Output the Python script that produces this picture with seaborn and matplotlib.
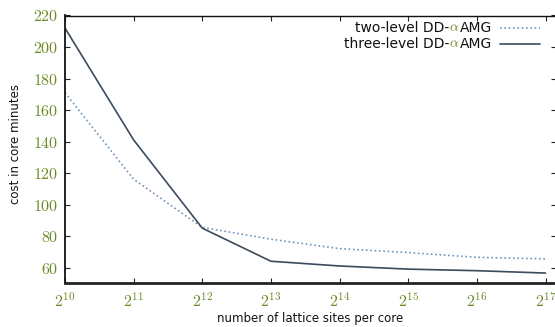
import numpy as np
import pandas as pd
import matplotlib
matplotlib.use("Agg")
import matplotlib.pyplot as plt
import seaborn as sns
from matplotlib.offsetbox import TextArea, HPacker, VPacker, DrawingArea, AnchoredOffsetbox
from matplotlib.lines import Line2D

exponents = [10, 11, 12, 13, 14, 15, 16, 17]
two_level = [171, 116, 85.5, 78, 72, 69.5, 66.5, 65.5]
three_level = [212, 141, 85, 64, 61, 59, 58, 56.5]
series_names = ["two-level", "three-level"]
y_ticks = [60, 80, 100, 120, 140, 160, 180, 200, 220]

sns.set_theme(style="white")
plt.rcParams["font.family"] = ["DejaVu Sans"]
plt.rcParams["mathtext.fontset"] = "cm"

green = "#6a8a24"
c_two = "#7095bd"
c_three = "#3c4b5d"

df = pd.DataFrame({
    "sites": [2 ** e for e in exponents] * 2,
    "cost": two_level + three_level,
    "method": [series_names[0]] * len(exponents) + [series_names[1]] * len(exponents),
})

fig = plt.figure(figsize=(5.55, 3.27), dpi=100)
ax = fig.add_axes([65 / 555, 1 - 283.3 / 327, (555.8 - 65) / 555, (283.3 - 15.5) / 327])

sns.lineplot(data=df[df.method == "two-level"], x="sites", y="cost", ax=ax,
             color=c_two, linestyle=(0, (1, 1.6)), linewidth=1.2, legend=False)
sns.lineplot(data=df[df.method == "three-level"], x="sites", y="cost", ax=ax,
             color=c_three, linewidth=1.2, legend=False)

ax.set_xscale("log", base=2)
ax.set_xlim(2 ** 10, 2 ** 17.15)
ax.set_ylim(50, 220)
ax.set_xticks([2 ** e for e in exponents])
ax.set_xticklabels([r"$2^{%d}$" % e for e in exponents])
ax.set_yticks(y_ticks)
ax.set_yticklabels([r"$%d$" % v for v in y_ticks])
ax.minorticks_off()
ax.tick_params(axis="both", which="major", direction="in", length=3.5, width=0.8,
               colors="#222222", labelcolor=green, labelsize=11.5,
               top=True, right=True, bottom=True, left=True)
ax.tick_params(axis="x", pad=6)
ax.tick_params(axis="y", pad=5)

for s in ["left", "top", "right"]:
    ax.spines[s].set_color("#111111")
    ax.spines[s].set_linewidth(1.0)
ax.spines["left"].set_linewidth(1.3)
ax.spines["bottom"].set_color("#222222")
ax.spines["bottom"].set_linewidth(2.0)

ax.set_xlabel("number of lattice sites per core", fontsize=8.5, color="#111111")
ax.set_ylabel("cost in core minutes", fontsize=8.5, color="#111111")
ax.xaxis.set_label_coords(0.5, -0.108)
ax.yaxis.set_label_coords(-0.088, 0.52)

# custom legend with green alpha (DrawingArea units are points)
px = 72 / 100
rows = []
for name, col, ls in [(series_names[0], c_two, (0, (1, 1.6))), (series_names[1], c_three, "-")]:
    t1 = TextArea(name + " DD-", textprops=dict(size=10, color="#111111"))
    t2 = TextArea(r"$\alpha$", textprops=dict(size=10, color=green))
    t3 = TextArea("AMG", textprops=dict(size=10, color="#111111"))
    da = DrawingArea(48 * px, 8 * px, 0, 0)
    da.add_artist(Line2D([8 * px, 48 * px], [4 * px, 4 * px], color=col, linestyle=ls, linewidth=1.2))
    rows.append(HPacker(children=[t1, t2, t3, da], align="center", pad=0, sep=0))
box = VPacker(children=rows, align="right", pad=0, sep=1.5)
anch = AnchoredOffsetbox(loc="upper right", child=box, frameon=False,
                         bbox_to_anchor=(540 / 555, 1 - 20.5 / 327), bbox_transform=fig.transFigure,
                         borderpad=0, pad=0)
ax.add_artist(anch)

fig.savefig("out.png", dpi=100)
